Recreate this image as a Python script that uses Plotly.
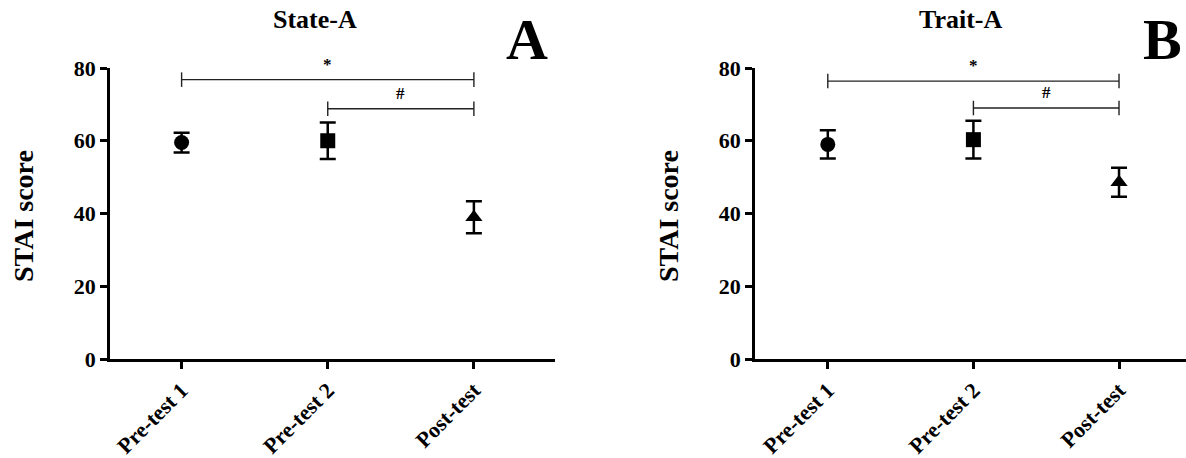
import plotly.graph_objects as go

# ---- data ----
categories = ["Pre-test 1", "Pre-test 2", "Post-test"]
symbols = ["circle", "square", "triangle-up"]

state_mean = [59.5, 60.0, 39.0]
state_err = [2.7, 5.0, 4.4]

trait_mean = [59.0, 60.3, 48.6]
trait_err = [3.9, 5.2, 4.0]

# brackets: (start index, end index, height, label)
state_brackets = [(0, 2, 76.8, "*"), (1, 2, 68.8, "#")]
trait_brackets = [(0, 2, 76.4, "*"), (1, 2, 69.0, "#")]

panel_titles = ["State-A", "Trait-A"]
panel_letters = ["A", "B"]
y_title = "STAI score"
y_ticks = [0, 20, 40, 60, 80]

FONT = "Liberation Serif"
W, H = 1186, 458

fig = go.Figure()

panels = [
    (state_mean, state_err, state_brackets, "x", "y"),
    (trait_mean, trait_err, trait_brackets, "x2", "y2"),
]

for mean, err, brackets, xa, ya in panels:
    for i, cat in enumerate(categories):
        fig.add_trace(go.Scatter(
            x=[cat], y=[mean[i]], mode="markers",
            marker=dict(symbol=symbols[i], size=15, color="black"),
            error_y=dict(type="data", array=[err[i]], color="black",
                         thickness=2.5, width=8),
            xaxis=xa, yaxis=ya, showlegend=False, cliponaxis=False,
        ))
    for a, b, h, lab in brackets:
        d = 2.0
        xs = [categories[a], categories[a], None,
              categories[a], categories[b], None,
              categories[b], categories[b]]
        ys = [h + d, h - d, None, h, h, None, h + d, h - d]
        fig.add_trace(go.Scatter(
            x=xs, y=ys, mode="lines", line=dict(color="#222222", width=1.4),
            xaxis=xa, yaxis=ya, showlegend=False, cliponaxis=False,
            connectgaps=False, hoverinfo="skip",
        ))
        fig.add_annotation(
            x=(a + b) / 2, y=h + 1.0, xref=xa, yref=ya, text=f"<b>{lab}</b>",
            showarrow=False, yanchor="bottom", xanchor="center",
            font=dict(family=FONT, size=17, color="black"),
        )

ydom = [1 - 359 / H, 1 - 68 / H]
x1dom = [110 / W, 555 / W]
x2dom = [755 / W, 1.0]

axis_common = dict(
    showline=True, linecolor="black", linewidth=2.5,
    ticks="outside", ticklen=7, tickwidth=2.5, tickcolor="black",
    showgrid=False, zeroline=False, automargin=False,
    tickfont=dict(family=FONT, size=22, color="black"),
)

xcommon = dict(axis_common, type="category", categoryorder="array",
               categoryarray=categories, tickangle=-45)
ycommon = dict(axis_common, range=[0, 80], tickvals=y_ticks,
               ticktext=[f"<b>{t}</b>" for t in y_ticks])

fig.update_layout(
    width=W, height=H,
    margin=dict(l=0, r=0, t=0, b=0, pad=0, autoexpand=False),
    paper_bgcolor="white", plot_bgcolor="white",
    xaxis=dict(xcommon, domain=x1dom, range=[-0.49, 2.555], anchor="y",
               tickvals=categories, ticktext=[f"<b>{c}</b>" for c in categories]),
    yaxis=dict(ycommon, domain=ydom, anchor="x"),
    xaxis2=dict(xcommon, domain=x2dom, range=[-0.5, 2.46], anchor="y2",
                tickvals=categories, ticktext=[f"<b>{c}</b>" for c in categories]),
    yaxis2=dict(ycommon, domain=ydom, anchor="x2"),
)

# titles, letters, y-axis titles
title_x = [315 / W, 960 / W]
letter_x = [527 / W, 1162 / W]
ytitle_x = [23 / W, 668 / W]
for k in range(2):
    fig.add_annotation(x=title_x[k], y=1 - 19 / H, xref="paper", yref="paper",
                       xanchor="center", yanchor="middle",
                       text=f"<b>{panel_titles[k]}</b>", showarrow=False,
                       font=dict(family=FONT, size=26, color="black"))
    fig.add_annotation(x=letter_x[k], y=1 - 40 / H, xref="paper", yref="paper",
                       xanchor="center", yanchor="middle",
                       text=f"<b>{panel_letters[k]}</b>", showarrow=False,
                       font=dict(family=FONT, size=58, color="black"))
    fig.add_annotation(x=ytitle_x[k], y=1 - 216 / H, xref="paper", yref="paper",
                       xanchor="center", yanchor="middle",
                       text=f"<b>{y_title}</b>", showarrow=False, textangle=-90,
                       font=dict(family=FONT, size=28, color="black"))

fig.write_html("out.html", config={"displayModeBar": False},
               post_script="document.body.style.margin='0';")
